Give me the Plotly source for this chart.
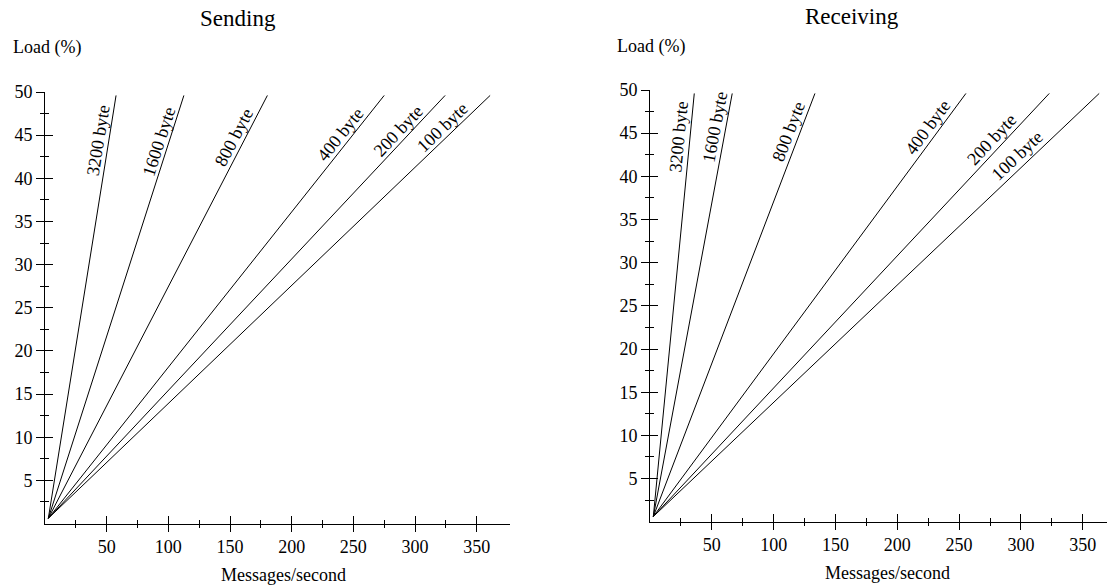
import math
import plotly.graph_objects as go

W, H = 1107, 587

# ---------------- data ----------------
sizes = ["3200 byte", "1600 byte", "800 byte", "400 byte", "200 byte", "100 byte"]
start_rate = 2.7          # messages/second where all lines meet
start_load = 0.6          # load (%) at that point
top_load = 49.6           # load (%) where the lines end
send_top_rate = [57.6, 112.6, 180.3, 275.0, 324.4, 360.9]
recv_top_rate = [35.8, 66.5, 133.4, 255.5, 322.9, 363.3]

x_tick_vals = [50, 100, 150, 200, 250, 300, 350]
x_tick_text = ["50", "100", "150", "200", "250", "300", "350"]
x_minor_vals = [25, 75, 125, 175, 225, 275, 325]
y_tick_vals = [5, 10, 15, 20, 25, 30, 35, 40, 45, 50]
y_tick_text = ["5", "10", "15", "20", "25", "30", "35", "40", "45", "50"]
y_minor_vals = [2.5, 7.5, 12.5, 17.5, 22.5, 27.5, 32.5, 37.5, 42.5, 47.5]

# ---------------- layout config ----------------
FONT = "Liberation Serif"
INNER = "black"
panels = [
    dict(title="Sending", tops=send_top_rate, xr=[0, 377], x0=45, x1=510, y0=523.5, y1=92,
         title_xy=(238, 18), ylab_xy=(11, 48), xlab_xy=(283, 575),
         label_loads=[44.2, 43.9, 44.2, 44.4, 44.7, 45.1], label_d=10),
    dict(title="Receiving", tops=recv_top_rate, xr=[0, 369.2], x0=650, x1=1106.5, y0=521.7, y1=90,
         title_xy=(852, 16), ylab_xy=(615, 46), xlab_xy=(887, 573),
         label_loads=[44.5, 45.5, 44.8, 45.0, 43.5, 41.5], label_d=11),
]

fig = go.Figure()
annotations = []
layout_axes = {}

for i, p in enumerate(panels):
    xa = "x" if i == 0 else f"x{i + 1}"
    ya = "y" if i == 0 else f"y{i + 1}"
    xo = f"x{i + 3}"
    yo = f"y{i + 3}"
    xdom = [p["x0"] / W, p["x1"] / W]
    ydom = [(H - p["y0"]) / H, (H - p["y1"]) / H]
    yr = [0, 50]
    sx = (p["x1"] - p["x0"]) / (p["xr"][1] - p["xr"][0])
    sy = (p["y0"] - p["y1"]) / (yr[1] - yr[0])

    for k, (name, xt) in enumerate(zip(sizes, p["tops"])):
        # half the lines on the main axes, half on the identical overlay axes
        on_main = k < 3
        fig.add_trace(go.Scatter(
            x=[start_rate, xt], y=[start_load, top_load], mode="lines",
            line=dict(color="black", width=1),
            xaxis=xa if on_main else xo, yaxis=ya if on_main else yo,
            showlegend=False, hoverinfo="skip"))

    for name, xt, ll in zip(sizes, p["tops"], p["label_loads"]):
        dxp = (xt - start_rate) * sx
        dyp = (top_load - start_load) * sy
        th = math.atan2(dyp, dxp)
        lx = start_rate + (ll - start_load) / (top_load - start_load) * (xt - start_rate)
        d = p["label_d"]
        annotations.append(dict(
            x=lx, y=ll, xref=xa, yref=ya, text=name, showarrow=False,
            textangle=-math.degrees(th), xshift=-d * math.sin(th), yshift=d * math.cos(th),
            font=dict(family=FONT, size=18, color="black")))

    common = dict(showgrid=False, zeroline=False, tickwidth=1)
    layout_axes["xaxis" if i == 0 else f"xaxis{i + 1}"] = dict(
        domain=xdom, range=p["xr"], anchor=ya, showline=True, linecolor="black", linewidth=1,
        tickmode="array", tickvals=x_tick_vals, ticktext=x_tick_text, ticks="outside", ticklen=7,
        tickcolor="black",
        minor=dict(tickmode="array", tickvals=x_minor_vals, ticks="outside", ticklen=3,
                   tickcolor="black", tickwidth=1),
        tickfont=dict(family=FONT, size=18, color="black"), **common)
    layout_axes["yaxis" if i == 0 else f"yaxis{i + 1}"] = dict(
        domain=ydom, range=yr, anchor=xa, showline=True, linecolor="black", linewidth=1,
        tickmode="array", tickvals=y_tick_vals, ticktext=y_tick_text, ticks="outside", ticklen=8,
        tickcolor="black",
        minor=dict(tickmode="array", tickvals=y_minor_vals, ticks="outside", ticklen=4,
                   tickcolor="black", tickwidth=1),
        tickfont=dict(family=FONT, size=18, color="black"), **common)
    # overlay axes (same ranges) draw the inner half of the crossing ticks
    layout_axes[f"xaxis{i + 3}"] = dict(
        overlaying=xa, anchor=ya, side="bottom", range=p["xr"], showline=False,
        tickmode="array", tickvals=x_tick_vals, ticks="inside", ticklen=8, showticklabels=False,
        tickcolor=INNER,
        minor=dict(tickmode="array", tickvals=x_minor_vals, ticks="inside", ticklen=4,
                   tickcolor=INNER, tickwidth=1), **common)
    layout_axes[f"yaxis{i + 3}"] = dict(
        overlaying=ya, anchor=xa, side="left", range=yr, showline=False,
        tickmode="array", tickvals=y_tick_vals, ticks="inside", ticklen=8, showticklabels=False,
        tickcolor=INNER,
        minor=dict(tickmode="array", tickvals=y_minor_vals, ticks="inside", ticklen=4,
                   tickcolor=INNER, tickwidth=1), **common)

    tx, ty = p["title_xy"]
    annotations.append(dict(x=tx / W, y=1 - ty / H, xref="paper", yref="paper", text=p["title"],
                            showarrow=False, xanchor="center", yanchor="middle",
                            font=dict(family=FONT, size=23, color="black")))
    lx_, ly_ = p["ylab_xy"]
    annotations.append(dict(x=lx_ / W, y=1 - ly_ / H, xref="paper", yref="paper", text="Load (%)",
                            showarrow=False, xanchor="left", yanchor="middle",
                            font=dict(family=FONT, size=18, color="black")))
    mx, my = p["xlab_xy"]
    annotations.append(dict(x=mx / W, y=1 - my / H, xref="paper", yref="paper",
                            text="Messages/second", showarrow=False, xanchor="center",
                            yanchor="middle", font=dict(family=FONT, size=18, color="black")))

fig.update_layout(
    width=W, height=H, margin=dict(l=0, r=0, t=0, b=0, autoexpand=False),
    paper_bgcolor="white", plot_bgcolor="white", showlegend=False,
    annotations=annotations, **layout_axes)

fig.write_html("out.html", config={"displayModeBar": False},
               post_script="document.body.style.margin='0';document.body.style.overflow='hidden';")
